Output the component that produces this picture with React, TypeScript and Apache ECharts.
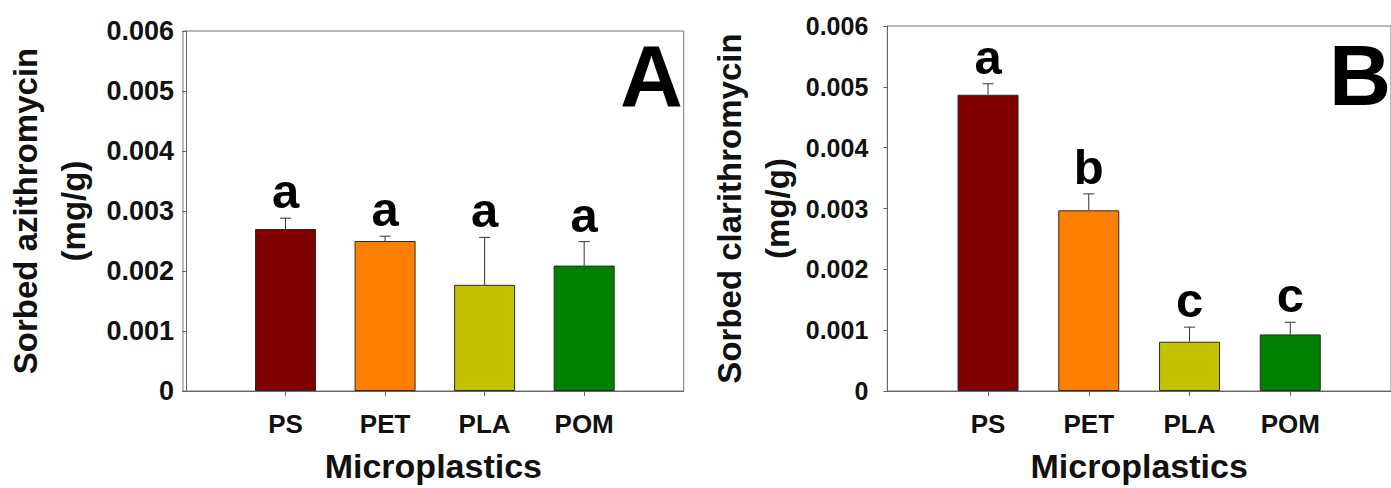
import React, { useEffect, useRef } from "react";
import * as echarts from "echarts";

const categories = ["PS", "PET", "PLA", "POM"];
const positions = [1, 2, 3, 4];
const azithroMean = [0.0027, 0.0025, 0.00177, 0.00209];
const azithroErr = [0.00018, 0.00008, 0.00079, 0.0004];
const azithroLetters = ["a", "a", "a", "a"];
const clarithroMean = [0.00487, 0.00297, 0.00081, 0.00093];
const clarithroErr = [0.00018, 0.00027, 0.00024, 0.0002];
const clarithroLetters = ["a", "b", "c", "c"];
const barColors = ["#800000", "#ff8000", "#c2c200", "#008000"];
const yMin = 0;
const yMax = 0.006;
const yStep = 0.001;

const FONT = "'Liberation Sans', Arial, Helvetica, sans-serif";

function xAxisFor(gridIndex: number, min: number, max: number) {
  return {
    type: "value",
    gridIndex,
    min,
    max,
    axisLine: { show: true, onZero: false, lineStyle: { color: "#666", width: 1 } },
    axisTick: { show: true, customValues: positions, length: 5, lineStyle: { color: "#666" } },
    axisLabel: {
      customValues: positions,
      margin: 20,
      formatter: (v: number) => categories[Math.round(v) - 1] ?? "",
      fontFamily: FONT,
      fontWeight: "bold",
      fontSize: 26,
      color: "#111",
    },
    splitLine: { show: false },
    name: "Microplastics",
    nameLocation: "middle",
    nameGap: 58,
    nameTextStyle: { fontFamily: FONT, fontWeight: "bold", fontSize: 34, color: "#111" },
  };
}

function yAxisFor(gridIndex: number, title: string, margin: number, nameGap: number, labelSize: number) {
  return {
    type: "value",
    gridIndex,
    min: yMin,
    max: yMax,
    interval: yStep,
    axisLine: { show: true, lineStyle: { color: "#666", width: 1 } },
    axisTick: { show: true, length: 4, lineStyle: { color: "#666" } },
    axisLabel: {
      margin,
      formatter: (v: number) => (Math.abs(v) < 1e-12 ? "0" : v.toFixed(3)),
      fontFamily: FONT,
      fontWeight: "bold",
      fontSize: labelSize,
      color: "#111",
    },
    splitLine: { show: false },
    name: title + "\n(mg/g)",
    nameLocation: "middle",
    nameRotate: 90,
    nameGap,
    nameTextStyle: {
      fontFamily: FONT,
      fontWeight: "bold",
      fontSize: 33,
      lineHeight: 48,
      color: "#111",
    },
  };
}

function barSeries(idx: number, means: number[]) {
  return {
    type: "bar",
    xAxisIndex: idx,
    yAxisIndex: idx,
    barWidth: 61,
    data: positions.map((p, i) => ({
      value: [p, means[i]],
      itemStyle: { color: barColors[i], borderColor: "#2a2a2a", borderWidth: 1 },
    })),
    z: 2,
  };
}

function errSeries(idx: number, means: number[], errs: number[], letters: string[]) {
  return {
    type: "custom",
    xAxisIndex: idx,
    yAxisIndex: idx,
    z: 3,
    clip: false,
    encode: { x: 0, y: 1 },
    data: positions.map((p, i) => [p, means[i], errs[i]]),
    renderItem: (params: any, api: any) => {
      const i = params.dataIndex;
      const x = api.value(0);
      const m = api.value(1);
      const e = api.value(2);
      const base = api.coord([x, m]);
      const top = api.coord([x, m + e]);
      const stroke = { stroke: "#333", lineWidth: 1 };
      return {
        type: "group",
        children: [
          { type: "line", shape: { x1: base[0], y1: base[1], x2: top[0], y2: top[1] }, style: stroke },
          { type: "line", shape: { x1: top[0] - 5.5, y1: top[1], x2: top[0] + 5.5, y2: top[1] }, style: stroke },
          {
            type: "text",
            x: top[0],
            y: top[1] - 27,
            style: {
              text: letters[i],
              fontSize: 49,
              fontWeight: "bold",
              fontFamily: FONT,
              fill: "#000",
              align: "center",
              verticalAlign: "middle",
            },
          },
        ],
      };
    },
  };
}

export default function App() {
  const ref = useRef<HTMLDivElement>(null);
  useEffect(() => {
    if (!ref.current) return;
    const chart = echarts.init(ref.current, undefined, { renderer: "svg" });
    chart.setOption({
      animation: false,
      backgroundColor: "#ffffff",
      grid: [
        { left: 175.7, top: 31, width: 508, height: 363.3, show: true, borderColor: "#777", borderWidth: 1, backgroundColor: "transparent" },
        { left: 887.3, top: 26, width: 507.7, height: 366.7, show: true, borderColor: "#777", borderWidth: 1, backgroundColor: "transparent" },
      ],
      xAxis: [xAxisFor(0, -0.03, 5.0), xAxisFor(1, 0, 5.0)],
      yAxis: [
        yAxisFor(0, "Sorbed azithromycin", 9, 86, 27),
        yAxisFor(1, "Sorbed clarithromycin", 19, 79, 25),
      ],
      series: [
        barSeries(0, azithroMean),
        errSeries(0, azithroMean, azithroErr, azithroLetters),
        barSeries(1, clarithroMean),
        errSeries(1, clarithroMean, clarithroErr, clarithroLetters),
      ],
      graphic: [
        {
          type: "text",
          x: 620,
          y: 75,
          z: 10,
          style: { text: "A", fontSize: 87, fontWeight: "bold", fontFamily: FONT, fill: "#000", align: "left", verticalAlign: "middle" },
        },
        {
          type: "text",
          x: 1329,
          y: 75,
          z: 10,
          style: { text: "B", fontSize: 86, fontWeight: "bold", fontFamily: FONT, fill: "#000", align: "left", verticalAlign: "middle" },
        },
      ],
    });
    return () => chart.dispose();
  }, []);
  return (
    <div
      ref={ref}
      style={{ position: "absolute", left: 0, top: 0, width: 1391, height: 488, background: "#fff" }}
    />
  );
}
